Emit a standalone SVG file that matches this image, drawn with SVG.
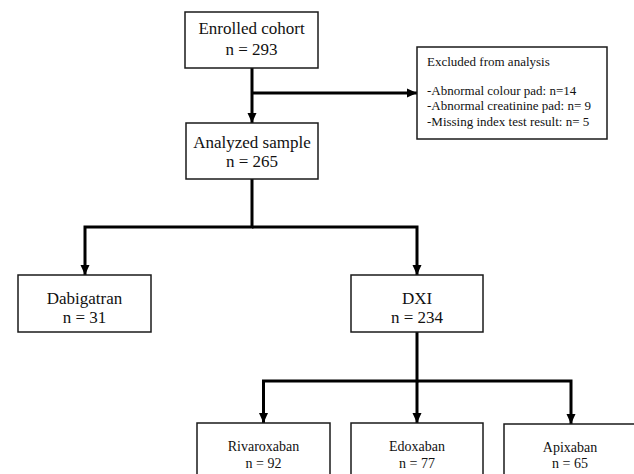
<svg xmlns="http://www.w3.org/2000/svg" width="634" height="474" viewBox="0 0 634 474">
<style>
.box{fill:#fff;stroke:#1a1a1a;stroke-width:1.5}
.t{fill:#111;text-anchor:middle}
.big{font-size:17px}
.small{font-size:14px}
.ex{fill:#111;font-size:13px}
.c{fill:none;stroke:#000;stroke-width:3}
</style>
<defs>
<marker id="ah" markerUnits="userSpaceOnUse" markerWidth="10" markerHeight="10" viewBox="0 0 10 10" refX="10" refY="5" orient="auto">
<path d="M0,0.5 L10,5 L0,9.5 Z" fill="#000"/>
</marker>
</defs>
<rect width="634" height="474" fill="#fff"/>
<g id="connectors">
<path class="c" d="M252,68 V123" marker-end="url(#ah)"/>
<path class="c" d="M252,93 H417" marker-end="url(#ah)"/>
<path class="c" d="M252,179 V227 H85 V275" marker-end="url(#ah)"/>
<path class="c" d="M252,227 H417 V275" marker-end="url(#ah)"/>
<path class="c" d="M417,332 V381 H263.5 V423" marker-end="url(#ah)"/>
<path class="c" d="M417,381 V423" marker-end="url(#ah)"/>
<path class="c" d="M417,381 H571 V424" marker-end="url(#ah)"/>
</g>
<g font-family="'Liberation Serif', 'DejaVu Serif', serif">
<g id="enrolled">
<rect class="box" x="185" y="12" width="133" height="56"/>
<text class="t big" x="251.5" y="34">Enrolled cohort</text>
<text class="t big" x="251.5" y="55">n = 293</text>
</g>
<g id="excluded">
<rect class="box" x="417" y="47" width="190" height="92"/>
<text class="ex" x="427" y="66">Excluded from analysis</text>
<text class="ex" x="427" y="95">-Abnormal colour pad: n=14</text>
<text class="ex" x="427" y="110">-Abnormal creatinine pad: n= 9</text>
<text class="ex" x="427" y="126">-Missing index test result: n= 5</text>
</g>
<g id="analyzed">
<rect class="box" x="186" y="123" width="132" height="56"/>
<text class="t big" x="252" y="148">Analyzed sample</text>
<text class="t big" x="252" y="167">n = 265</text>
</g>
<g id="dabigatran">
<rect class="box" x="18" y="275" width="133" height="57"/>
<text class="t big" x="84.5" y="304">Dabigatran</text>
<text class="t big" x="84.5" y="323">n = 31</text>
</g>
<g id="dxi">
<rect class="box" x="351" y="275" width="132" height="57"/>
<text class="t big" x="417" y="304">DXI</text>
<text class="t big" x="417" y="323">n = 234</text>
</g>
<g id="rivaroxaban">
<rect class="box" x="197" y="423" width="133" height="60"/>
<text class="t small" x="263.5" y="451">Rivaroxaban</text>
<text class="t small" x="263.5" y="468">n = 92</text>
</g>
<g id="edoxaban">
<rect class="box" x="351" y="423" width="132" height="60"/>
<text class="t small" x="417" y="451">Edoxaban</text>
<text class="t small" x="417" y="468">n = 77</text>
</g>
<g id="apixaban">
<rect class="box" x="504" y="424" width="133" height="60"/>
<text class="t small" x="570" y="452">Apixaban</text>
<text class="t small" x="570" y="468">n = 65</text>
</g>
</g>
</svg>
